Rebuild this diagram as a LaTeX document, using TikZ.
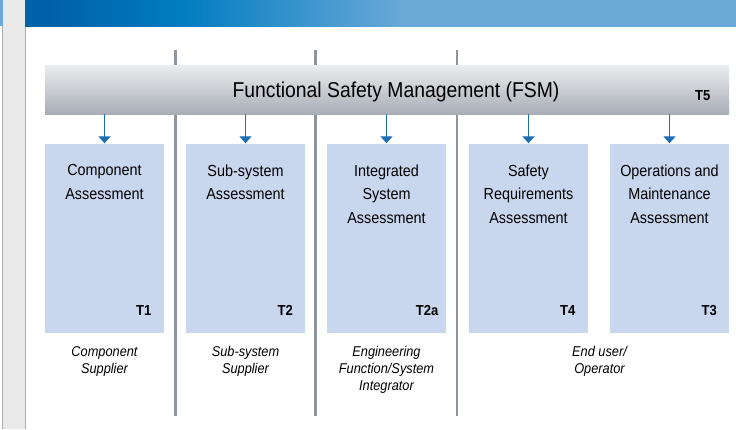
\documentclass[tikz,border=0pt]{standalone}
\usepackage{fontspec}
\setmainfont{Liberation Sans}[FakeStretch=0.9]
\usetikzlibrary{arrows.meta}
\definecolor{bdark}{HTML}{0060A8}
\definecolor{bmid}{HTML}{007CC0}
\definecolor{blight}{HTML}{69A8D7}
\definecolor{stripgrey}{HTML}{E9E9E9}
\definecolor{stripedge}{HTML}{A9ADB2}
\definecolor{sepgrey}{HTML}{8E959D}
\definecolor{fsmtop}{HTML}{ECEDEF}
\definecolor{fsmbot}{HTML}{A8ADB6}
\definecolor{boxfill}{HTML}{C8D7EE}
\definecolor{arrblue}{HTML}{1E6EB4}
\pgfdeclarehorizontalshading{bannershade}{100bp}{color(0bp)=(bdark); color(26.5bp)=(bdark); color(35.8bp)=(bmid); color(51.4bp)=(blight); color(100bp)=(blight)}
\tikzset{
  assess/.style={rectangle, fill=boxfill, draw=none, minimum width=119pt, minimum height=189pt, inner sep=0pt},
  boxtext/.style={anchor=north, align=center, inner sep=0pt, font=\fontsize{16}{23.5}\selectfont},
  tlabel/.style={anchor=north east, inner sep=0pt, font=\bfseries\fontsize{14.5}{16}\selectfont},
  who/.style={anchor=north, align=center, inner sep=0pt, font=\itshape\fontsize{14.2}{17}\selectfont},
  sep/.style={draw=sepgrey, line width=2.5pt},
  arr/.style={draw=arrblue, line width=1.3pt, -{Triangle[width=12pt,length=7pt]}},
  fsmbar/.style={rectangle, inner sep=0pt, minimum width=684pt, minimum height=49pt, top color=fsmtop, bottom color=fsmbot, draw=none}
}
\begin{document}
\begin{tikzpicture}[x=1pt,y=-1pt]
\useasboundingbox (0,0) rectangle (736,429);
\fill[white] (0,0) rectangle (736,429);
% left strip
\fill[stripgrey] (3,0) rectangle (25.5,429);
\fill[blight] (0,0) rectangle (3,26);
\draw[stripedge, line width=1.5pt] (2.6,26) -- (2.6,429);
\draw[stripedge, line width=1.5pt] (25.6,26) -- (25.6,429);
% banner
\shade[shading=bannershade] (25,0) rectangle (736,26);
% separators
\coordinate (s1t) at (175.5,50); \coordinate (s1b) at (175.5,416);
\coordinate (s2t) at (315.5,50); \coordinate (s2b) at (315.5,416);
\coordinate (s3t) at (457,50); \coordinate (s3b) at (457,416);
\draw[sep] (s1t) -- (s1b);
\draw[sep] (s2t) -- (s2b);
\draw[sep] (s3t) -- (s3b);
% FSM bar
\node[fsmbar] (fsm) at (387,89.5) {};
\node[anchor=north, inner sep=0pt, font=\fontsize{21.5}{24}\selectfont] (fsmt) at (396,81.5) {Functional Safety Management (FSM)};
\node[tlabel] (t5) at (710.5,90) {T5};
% boxes
\node[assess] (b1) at (104.5,238) {};
\node[assess] (b2) at (245.5,238) {};
\node[assess] (b3) at (386.5,238) {};
\node[assess] (b4) at (528.5,238) {};
\node[assess] (b5) at (669.5,238) {};
% arrows
\foreach \b in {b1,b2,b3,b4,b5}{
  \draw[arr] (fsm.south -| \b.north) -- (\b.north);
}
% box texts
\node[boxtext] (b1t) at (104.5,164.5) {Component\\Assessment};
\node[boxtext] (b2t) at (245.5,164.5) {Sub-system\\Assessment};
\node[boxtext] (b3t) at (386.5,164.5) {Integrated\\System\\Assessment};
\node[boxtext] (b4t) at (528.5,164.5) {Safety\\Requirements\\Assessment};
\node[boxtext] (b5t) at (669.5,164.5) {Operations and\\Maintenance\\Assessment};
% T labels
\node[tlabel] (t1) at (151.5,305) {T1};
\node[tlabel] (t2) at (293,305) {T2};
\node[tlabel] (t2a) at (438.5,305) {T2a};
\node[tlabel] (t4) at (575.5,305) {T4};
\node[tlabel] (t3) at (717,305) {T3};
% who labels
\node[who] (w1) at (104.5,346.5) {Component\\Supplier};
\node[who] (w2) at (245.5,346.5) {Sub-system\\Supplier};
\node[who] (w3) at (386.5,346.5) {Engineering\\Function/System\\Integrator};
\node[who] (w4) at (599.5,346.5) {End user/\\Operator};
\end{tikzpicture}
\end{document}
